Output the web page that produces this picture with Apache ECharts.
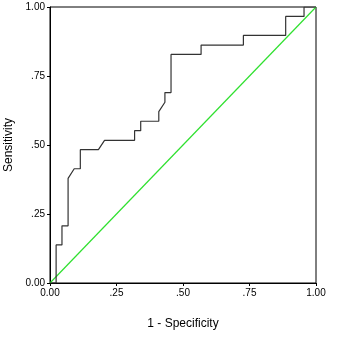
<!DOCTYPE html>
<html>
<head>
<meta charset="utf-8">
<script src="https://cdn.jsdelivr.net/npm/echarts@6/dist/echarts.min.js"></script>
<style>
html, body { margin: 0; padding: 0; background: #fff; }
#roc { width: 340px; height: 340px; }
</style>
</head>
<body>
<div id="roc"></div>
<script>
// ROC 曲线数据 (1 - 特异度, 灵敏度)
var fpr = [0, 0.023, 0.023, 0.045, 0.045, 0.068, 0.068, 0.091, 0.114, 0.114, 0.182, 0.205,
    0.318, 0.318, 0.341, 0.341, 0.409, 0.409, 0.432, 0.432, 0.455, 0.455, 0.568, 0.568,
    0.727, 0.727, 0.886, 0.886, 0.955, 0.955, 1];
var tpr = [0, 0, 0.138, 0.138, 0.207, 0.207, 0.379, 0.414, 0.414, 0.483, 0.483, 0.517,
    0.517, 0.552, 0.552, 0.586, 0.586, 0.621, 0.655, 0.690, 0.690, 0.828, 0.828, 0.862,
    0.862, 0.897, 0.897, 0.966, 0.966, 1, 1];
var refLine = [[0, 0], [1, 1]];

function fmt(v) {
    if (v === 0 || v === 1) {
        return v.toFixed(2);
    }
    return v.toFixed(2).slice(1);
}

var curve = [];
for (var i = 0; i < fpr.length; i++) {
    curve.push([fpr[i], tpr[i]]);
}

var axisCommon = {
    type: 'value',
    min: 0,
    max: 1,
    interval: 0.25,
    splitLine: { show: false },
    axisLine: { show: true, lineStyle: { color: '#000', width: 1 } },
    axisTick: { show: true, length: 3, lineStyle: { color: '#000' } },
    axisLabel: {
        color: '#000',
        fontFamily: 'Liberation Sans, Arial, sans-serif',
        fontSize: 10,
        margin: 5,
        formatter: fmt
    },
    nameLocation: 'middle',
    nameTextStyle: {
        color: '#000',
        fontFamily: 'Liberation Sans, Arial, sans-serif',
        fontSize: 12
    }
};

var option = {
    backgroundColor: '#fff',
    animation: false,
    grid: {
        left: 50,
        right: 24,
        top: 7,
        bottom: 57,
        outerBoundsMode: 'none',
        containLabel: false,
        show: true,
        borderColor: '#000',
        borderWidth: 1
    },
    xAxis: Object.assign({}, axisCommon, {
        name: '1 - Specificity',
        nameGap: 35
    }),
    yAxis: Object.assign({}, axisCommon, {
        name: 'Sensitivity',
        nameGap: 31,
        nameRotate: 90
    }),
    series: [
        {
            type: 'line',
            data: refLine,
            symbol: 'none',
            lineStyle: { color: '#2fe02f', width: 1.2 },
            z: 2
        },
        {
            type: 'line',
            data: curve,
            symbol: 'none',
            lineStyle: { color: '#333', width: 1.2 },
            z: 3
        }
    ]
};

var roc = echarts.init(document.getElementById('roc'));
roc.setOption(option);
</script>
</body>
</html>
